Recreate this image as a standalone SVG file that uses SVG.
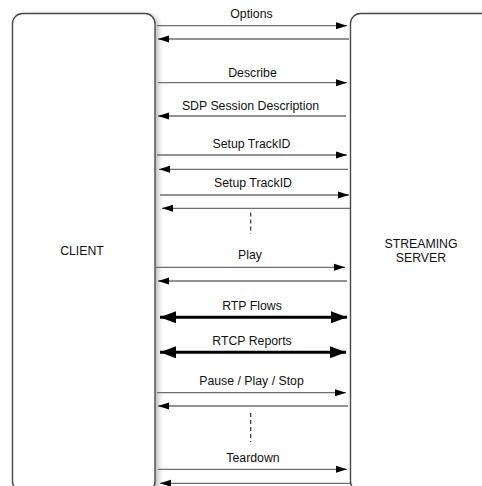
<svg xmlns="http://www.w3.org/2000/svg" width="482" height="486" viewBox="0 0 482 486">
<style>
.box{fill:#fff;stroke:#4a4a4a;stroke-width:1.4}
.msg{stroke:#6e6e6e;stroke-width:1.3;fill:none}
.thick{stroke:#000;stroke-width:3;fill:none}
.dash{stroke:#333;stroke-width:1.2;stroke-dasharray:4 3;fill:none}
text{font-family:"Liberation Sans",Arial,sans-serif;font-size:12.3px;fill:#111;text-anchor:middle}
</style>
<defs>
<filter id="sh" x="-10%" y="-5%" width="130%" height="115%">
<feDropShadow dx="3" dy="2" stdDeviation="2.5" flood-color="#000" flood-opacity="0.25"/>
</filter>
<marker id="ah" markerUnits="userSpaceOnUse" markerWidth="12" markerHeight="8" refX="11" refY="4" orient="auto-start-reverse">
<path d="M0,0.5 L11,4 L0,7.5 Z" fill="#000"/>
</marker>
<marker id="ahb" markerUnits="userSpaceOnUse" markerWidth="17" markerHeight="12" refX="16" refY="6" orient="auto-start-reverse">
<path d="M0,0 L16,6 L0,12 Z" fill="#000"/>
</marker>
</defs>
<rect width="482" height="486" fill="#fff"/>
<g id="client">
<rect class="box" x="12.5" y="13.5" width="142.5" height="478" rx="10" filter="url(#sh)"/>
<text x="82" y="255">CLIENT</text>
</g>
<g id="server">
<rect class="box" x="350.5" y="13.5" width="160" height="478" rx="10" filter="url(#sh)"/>
<text x="421" y="248">STREAMING</text>
<text x="421" y="261.5">SERVER</text>
</g>
<g id="connectors">
<line class="msg" x1="157" y1="25.7" x2="347" y2="25.7" marker-end="url(#ah)"/>
<line class="msg" x1="349" y1="39" x2="158" y2="39" marker-end="url(#ah)"/>
<line class="msg" x1="158" y1="82.7" x2="347" y2="82.7" marker-end="url(#ah)"/>
<line class="msg" x1="346" y1="116" x2="158" y2="116" marker-end="url(#ah)"/>
<line class="msg" x1="157" y1="155" x2="347" y2="155" marker-end="url(#ah)"/>
<line class="msg" x1="348" y1="169.3" x2="159" y2="169.3" marker-end="url(#ah)"/>
<line class="msg" x1="160" y1="195" x2="349" y2="195" marker-end="url(#ah)"/>
<line class="msg" x1="350" y1="208.3" x2="162" y2="208.3" marker-end="url(#ah)"/>
<line class="dash" x1="250.7" y1="212.5" x2="250.7" y2="234"/>
<line class="msg" x1="156" y1="267.3" x2="345" y2="267.3" marker-end="url(#ah)"/>
<line class="msg" x1="347" y1="281" x2="158" y2="281" marker-end="url(#ah)"/>
<line class="thick" x1="160" y1="317.3" x2="347" y2="317.3" marker-start="url(#ahb)" marker-end="url(#ahb)"/>
<line class="thick" x1="160" y1="352.3" x2="346" y2="352.3" marker-start="url(#ahb)" marker-end="url(#ahb)"/>
<line class="msg" x1="157" y1="392.7" x2="346" y2="392.7" marker-end="url(#ah)"/>
<line class="msg" x1="348" y1="406" x2="158" y2="406" marker-end="url(#ah)"/>
<line class="dash" x1="250.7" y1="413" x2="250.7" y2="442"/>
<line class="msg" x1="158" y1="469.3" x2="347" y2="469.3" marker-end="url(#ah)"/>
<line class="msg" x1="350" y1="483.3" x2="160" y2="483.3" marker-end="url(#ah)"/>
</g>
<g id="labels">
<text x="251.5" y="18">Options</text>
<text x="252.5" y="77">Describe</text>
<text x="250.5" y="110">SDP Session Description</text>
<text x="251.5" y="148">Setup TrackID</text>
<text x="253" y="187">Setup TrackID</text>
<text x="250" y="259">Play</text>
<text x="252" y="310">RTP Flows</text>
<text x="252" y="345">RTCP Reports</text>
<text x="251.5" y="384.5">Pause / Play / Stop</text>
<text x="253" y="462">Teardown</text>
</g>
</svg>
